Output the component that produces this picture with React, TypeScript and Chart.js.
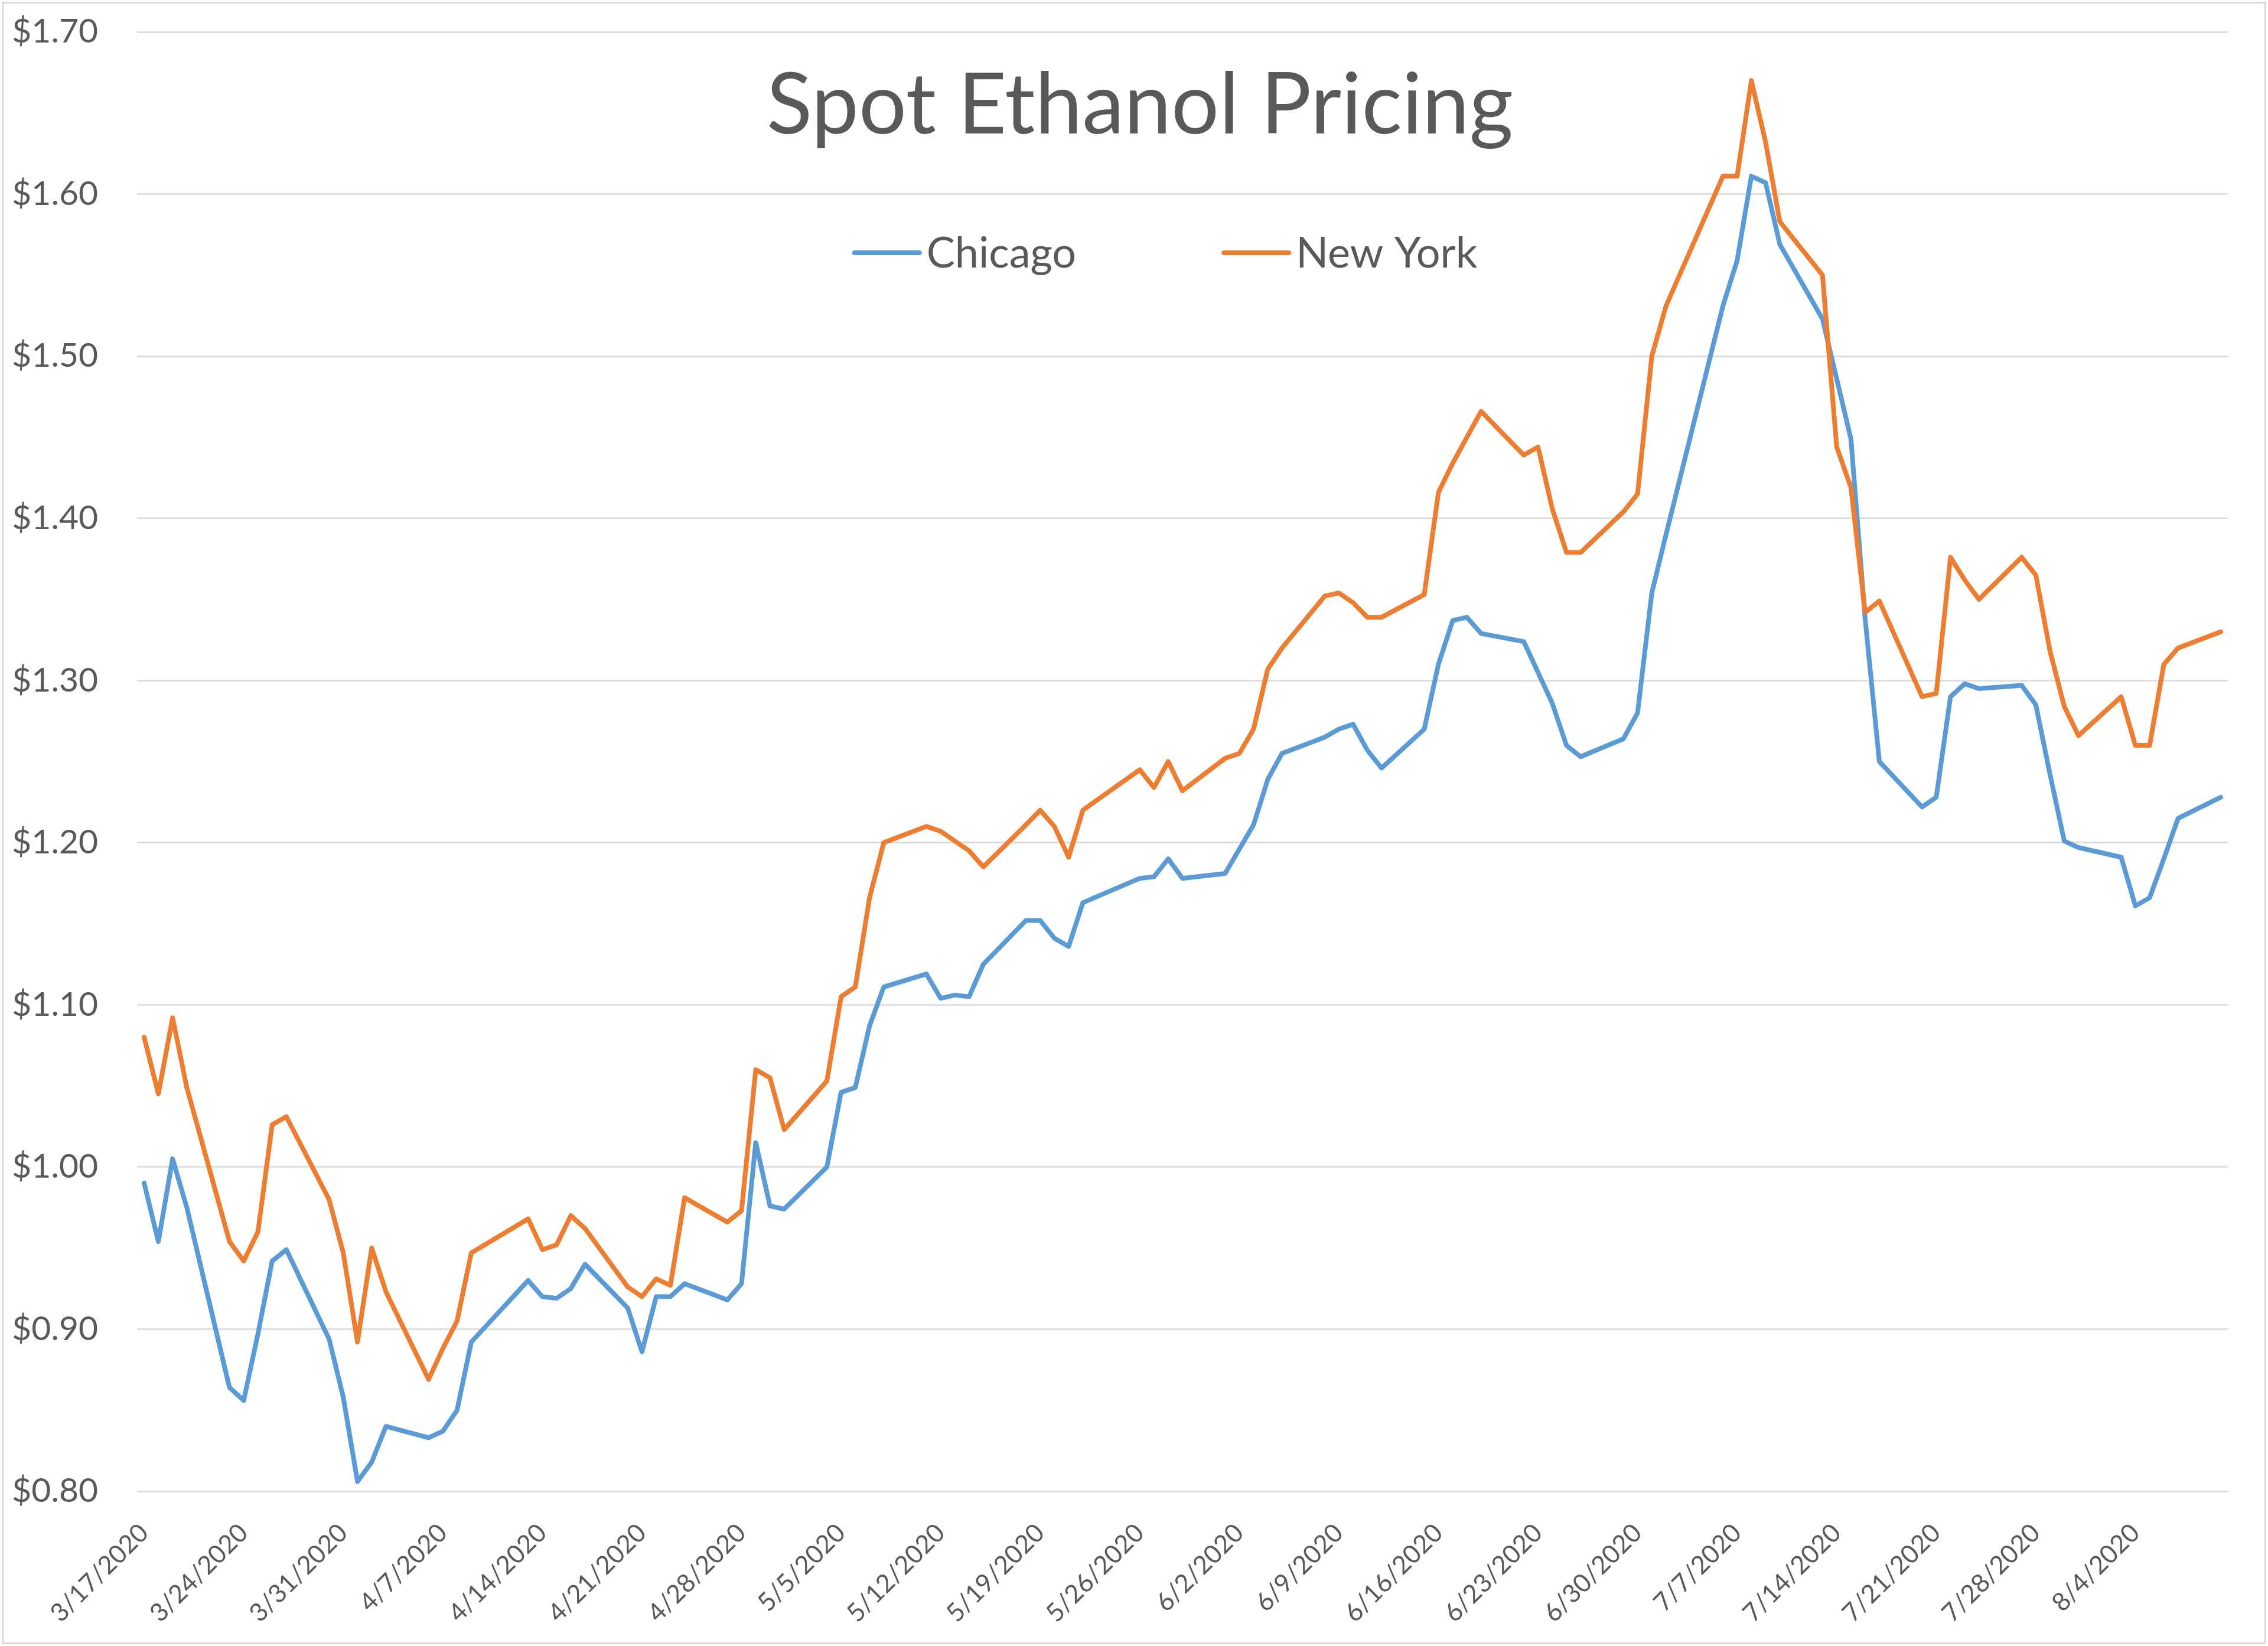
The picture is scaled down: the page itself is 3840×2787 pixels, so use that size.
import React, { useEffect, useRef } from 'react';
import { Chart, registerables } from 'chart.js';

Chart.register(...registerables);

const chartTitle = 'Spot Ethanol Pricing';
const seriesNames = ['Chicago', 'New York'];
const seriesColors = ['#5B9BD5', '#ED7D31'];

const dates = [
  '3/17/2020', '3/18/2020', '3/19/2020', '3/20/2020',
  '3/23/2020', '3/24/2020', '3/25/2020', '3/26/2020', '3/27/2020',
  '3/30/2020', '3/31/2020', '4/1/2020', '4/2/2020', '4/3/2020',
  '4/6/2020', '4/7/2020', '4/8/2020', '4/9/2020',
  '4/13/2020', '4/14/2020', '4/15/2020', '4/16/2020', '4/17/2020',
  '4/20/2020', '4/21/2020', '4/22/2020', '4/23/2020', '4/24/2020',
  '4/27/2020', '4/28/2020', '4/29/2020', '4/30/2020', '5/1/2020',
  '5/4/2020', '5/5/2020', '5/6/2020', '5/7/2020', '5/8/2020',
  '5/11/2020', '5/12/2020', '5/13/2020', '5/14/2020', '5/15/2020',
  '5/18/2020', '5/19/2020', '5/20/2020', '5/21/2020', '5/22/2020',
  '5/26/2020', '5/27/2020', '5/28/2020', '5/29/2020',
  '6/1/2020', '6/2/2020', '6/3/2020', '6/4/2020', '6/5/2020',
  '6/8/2020', '6/9/2020', '6/10/2020', '6/11/2020', '6/12/2020',
  '6/15/2020', '6/16/2020', '6/17/2020', '6/18/2020', '6/19/2020',
  '6/22/2020', '6/23/2020', '6/24/2020', '6/25/2020', '6/26/2020',
  '6/29/2020', '6/30/2020', '7/1/2020', '7/2/2020',
  '7/6/2020', '7/7/2020', '7/8/2020', '7/9/2020', '7/10/2020',
  '7/13/2020', '7/14/2020', '7/15/2020', '7/16/2020', '7/17/2020',
  '7/20/2020', '7/21/2020', '7/22/2020', '7/23/2020', '7/24/2020',
  '7/27/2020', '7/28/2020', '7/29/2020', '7/30/2020', '7/31/2020',
  '8/3/2020', '8/4/2020', '8/5/2020', '8/6/2020', '8/7/2020',
  '8/10/2020',
];

const chicago = [
  0.990, 0.954, 1.005, 0.975,
  0.864, 0.856, 0.897, 0.942, 0.949,
  0.894, 0.858, 0.806, 0.818, 0.840,
  0.833, 0.837, 0.850, 0.892,
  0.930, 0.920, 0.919, 0.925, 0.940,
  0.913, 0.886, 0.920, 0.920, 0.928,
  0.918, 0.928, 1.015, 0.976, 0.974,
  1.000, 1.046, 1.049, 1.087, 1.111,
  1.119, 1.104, 1.106, 1.105, 1.125,
  1.152, 1.152, 1.141, 1.136, 1.163,
  1.178, 1.179, 1.190, 1.178,
  1.181, 1.196, 1.211, 1.239, 1.255,
  1.265, 1.270, 1.273, 1.257, 1.246,
  1.270, 1.310, 1.337, 1.339, 1.329,
  1.324, 1.305, 1.286, 1.260, 1.253,
  1.264, 1.280, 1.354, 1.390,
  1.531, 1.559, 1.611, 1.607, 1.569,
  1.523, 1.486, 1.449, 1.338, 1.250,
  1.222, 1.228, 1.290, 1.298, 1.295,
  1.297, 1.285, 1.242, 1.201, 1.197,
  1.191, 1.161, 1.166, 1.190, 1.215,
  1.228,
];

const newYork = [
  1.080, 1.045, 1.092, 1.049,
  0.954, 0.942, 0.960, 1.026, 1.031,
  0.980, 0.947, 0.892, 0.950, 0.923,
  0.869, 0.888, 0.905, 0.947,
  0.968, 0.949, 0.952, 0.970, 0.962,
  0.926, 0.920, 0.931, 0.927, 0.981,
  0.966, 0.973, 1.060, 1.055, 1.023,
  1.053, 1.105, 1.111, 1.166, 1.200,
  1.210, 1.207, 1.201, 1.195, 1.185,
  1.211, 1.220, 1.210, 1.191, 1.220,
  1.245, 1.234, 1.250, 1.232,
  1.252, 1.255, 1.270, 1.307, 1.320,
  1.352, 1.354, 1.348, 1.339, 1.339,
  1.353, 1.416, 1.434, 1.450, 1.466,
  1.439, 1.444, 1.406, 1.379, 1.379,
  1.404, 1.415, 1.500, 1.531,
  1.611, 1.611, 1.670, 1.632, 1.583,
  1.550, 1.444, 1.419, 1.342, 1.349,
  1.290, 1.292, 1.376, 1.362, 1.350,
  1.376, 1.365, 1.318, 1.284, 1.266,
  1.290, 1.260, 1.260, 1.310, 1.320,
  1.330,
];

const xTickLabels = [
  '3/17/2020', '3/24/2020', '3/31/2020', '4/7/2020', '4/14/2020', '4/21/2020',
  '4/28/2020', '5/5/2020', '5/12/2020', '5/19/2020', '5/26/2020', '6/2/2020',
  '6/9/2020', '6/16/2020', '6/23/2020', '6/30/2020', '7/7/2020', '7/14/2020',
  '7/21/2020', '7/28/2020', '8/4/2020',
];

const yMin = 0.8;
const yMax = 1.7;
const yStep = 0.1;

const toUTC = (s: string) => {
  const [m, d, y] = s.split('/').map(Number);
  return Date.UTC(y, m - 1, d);
};
const BASE = toUTC(dates[0]);
const dayIndex = (s: string) => Math.round((toUTC(s) - BASE) / 86400000);
const LAST = dayIndex(dates[dates.length - 1]);

const TEXT = '#595959';
const FONT = 'Lato';

const overlayPlugin = {
  id: 'overlay',
  afterDraw(chart: any) {
    const ctx = chart.ctx as CanvasRenderingContext2D;
    ctx.save();
    // chart frame
    ctx.strokeStyle = '#d9d9d9';
    ctx.lineWidth = 3;
    ctx.strokeRect(4.5, 4.5, chart.width - 9, chart.height - 9);

    // title
    ctx.fillStyle = TEXT;
    ctx.font = `143px ${FONT}`;
    ctx.textAlign = 'center';
    ctx.textBaseline = 'alphabetic';
    ctx.fillText(chartTitle, 1930, 226);

    // legend
    const lineLen = 110;
    const gap = 12;
    const itemGap = 250;
    ctx.font = `72px ${FONT}`;
    const widths = seriesNames.map((n) => ctx.measureText(n).width);
    const total = widths.reduce((a, w) => a + lineLen + gap + w, 0) + itemGap * (seriesNames.length - 1);
    let x = 1974 - total / 2;
    const ly = 428;
    ctx.textAlign = 'left';
    ctx.textBaseline = 'middle';
    seriesNames.forEach((n, i) => {
      ctx.strokeStyle = seriesColors[i];
      ctx.lineWidth = 8;
      ctx.lineCap = 'round';
      ctx.beginPath();
      ctx.moveTo(x, ly);
      ctx.lineTo(x + lineLen, ly);
      ctx.stroke();
      ctx.fillStyle = TEXT;
      ctx.fillText(n, x + lineLen + gap, ly + 2);
      x += lineLen + gap + widths[i] + itemGap;
    });
    ctx.restore();
  },
};

export default function App() {
  const ref = useRef<HTMLCanvasElement>(null);

  useEffect(() => {
    document.body.style.margin = '0';
    document.body.style.overflow = 'hidden';
    const canvas = ref.current;
    if (!canvas) return;
    const tickMap = new Map<number, string>();
    xTickLabels.forEach((l) => tickMap.set(dayIndex(l), l));

    const chart = new Chart(canvas, {
      type: 'line',
      data: {
        datasets: [
          {
            label: seriesNames[0],
            data: dates.map((d, i) => ({ x: dayIndex(d), y: chicago[i] })),
            borderColor: seriesColors[0],
            backgroundColor: seriesColors[0],
            borderWidth: 8,
            pointRadius: 0,
            tension: 0,
            borderJoinStyle: 'round',
            borderCapStyle: 'round',
            order: 2,
          },
          {
            label: seriesNames[1],
            data: dates.map((d, i) => ({ x: dayIndex(d), y: newYork[i] })),
            borderColor: seriesColors[1],
            backgroundColor: seriesColors[1],
            borderWidth: 8,
            pointRadius: 0,
            tension: 0,
            borderJoinStyle: 'round',
            borderCapStyle: 'round',
            order: 1,
          },
        ],
      },
      options: {
        responsive: false,
        animation: false,
        devicePixelRatio: 1,
        layout: { padding: { left: 0, top: 54, right: 68, bottom: 0 } },
        plugins: {
          legend: { display: false },
          title: { display: false },
          tooltip: { enabled: false },
        },
        scales: {
          x: {
            type: 'linear',
            min: -0.5,
            max: LAST + 0.5,
            afterBuildTicks: (s: any) => {
              s.ticks = xTickLabels.map((l) => ({ value: dayIndex(l) }));
            },
            afterFit: (s: any) => {
              s.height = 262;
            },
            ticks: {
              autoSkip: false,
              minRotation: 45,
              maxRotation: 45,
              padding: 45,
              color: TEXT,
              font: { family: FONT, size: 43 },
              callback: (v: any) => tickMap.get(Math.round(Number(v))) ?? '',
            },
            grid: { display: false, drawTicks: false },
            border: { display: false },
          },
          y: {
            min: yMin,
            max: yMax,
            afterFit: (s: any) => {
              s.width = 232;
              s.paddingTop = 0;
              s.paddingBottom = 0;
            },
            ticks: {
              stepSize: yStep,
              padding: 66,
              color: TEXT,
              font: { family: FONT, size: 57 },
              callback: (v: any) => '$' + Number(v).toFixed(2),
            },
            grid: { color: '#dedede', lineWidth: 3, drawTicks: false },
            border: { display: false },
          },
        },
      },
      plugins: [overlayPlugin],
    });
    return () => chart.destroy();
  }, []);

  return (
    <div style={{ width: 3840, height: 2787 }}>
      <canvas ref={ref} width={3840} height={2787} style={{ display: 'block', width: 3840, height: 2787 }} />
    </div>
  );
}
